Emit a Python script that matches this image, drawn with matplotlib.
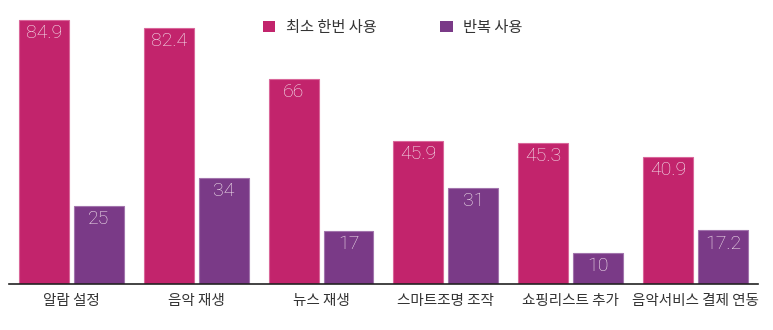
import numpy as np
import matplotlib.pyplot as plt
from matplotlib.patches import Patch

plt.rcParams['font.family'] = ['Noto Sans CJK KR', 'DejaVu Sans']

categories = ["알람 설정", "음악 재생", "뉴스 재생", "스마트조명 조작", "쇼핑리스트 추가", "음악서비스 결제 연동"]
once = [84.9, 82.4, 66, 45.9, 45.3, 40.9]
repeat = [25, 34, 17, 31, 10, 17.2]
series_names = ["최소 한번 사용", "반복 사용"]
colors = ["#C2246C", "#7A3A87"]
edge_colors = ["#D9679A", "#A274AC"]


def main():
    fig = plt.figure(figsize=(7.73, 3.30), dpi=100)
    ax = fig.add_axes([0.0116, 0.1394, 0.969, 0.8606])

    x = np.arange(len(categories))
    w = 0.4
    off = 0.22
    for vals, dx, c, ec in [(once, -off, colors[0], edge_colors[0]),
                            (repeat, off, colors[1], edge_colors[1])]:
        bars = ax.bar(x + dx, vals, w, color=c, edgecolor=ec, linewidth=0.8)
        for b, v in zip(bars, vals):
            ax.text(b.get_x() + b.get_width() / 2, v - 1.3, f"{v:g}",
                    ha="center", va="top", color="#F6E8F0", fontsize=14,
                    family=["Roboto", "DejaVu Sans"], fontweight="light")

    ax.set_xlim(-0.5, 5.5)
    ax.set_ylim(0, 91.3)
    ax.set_xticks(x)
    ax.set_xticklabels(categories, fontsize=10.5, color="#333333")
    ax.tick_params(axis="x", length=0, pad=7)
    ax.set_yticks([])
    for s in ["top", "right", "left"]:
        ax.spines[s].set_visible(False)
    ax.spines["bottom"].set_color("#222222")
    ax.spines["bottom"].set_linewidth(1.2)

    handles = [Patch(facecolor=c, edgecolor="none") for c in colors]
    fig.legend(handles, series_names, loc="upper center",
               bbox_to_anchor=(0.508, 0.985), ncol=2, frameon=False,
               fontsize=11, handlelength=0.8, handleheight=0.8,
               columnspacing=4.2, handletextpad=0.7,
               labelcolor="#333333")

    fig.savefig("out.png", dpi=100)


if __name__ == "__main__":
    main()
